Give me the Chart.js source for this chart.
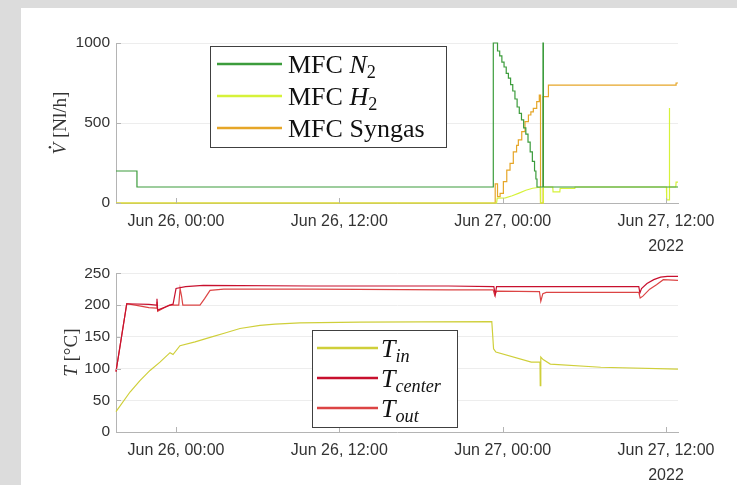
<!DOCTYPE html>
<html>
<head>
<meta charset="utf-8">
<script src="https://cdn.jsdelivr.net/npm/chart.js@4.4.1/dist/chart.umd.min.js"></script>
<style>
html, body { margin: 0; padding: 0; background: #dcdcdc; }
body { width: 737px; height: 485px; position: relative; overflow: hidden; }
#paper { position: absolute; left: 21px; top: 8px; right: 0; bottom: 0; background: #fff; }
#c1 { position: absolute; left: 0; top: 0; }
#c2 { position: absolute; left: 0; top: 258px; }
</style>
</head>
<body>
<div id="paper"></div>
<canvas id="c1" width="737" height="258"></canvas>
<canvas id="c2" width="737" height="227"></canvas>
<script>
// time axis: hours since Jun 26 2022, 00:00
var tStart = -4.41, tEnd = 36.88;
var tickHours = [0, 12, 24, 36];
var tickLabels = ["Jun 26, 00:00", "Jun 26, 12:00", "Jun 27, 00:00", ["Jun 27, 12:00", "2022"]];

// mass flow controllers [Nl/h]
var n2Time = [-4.41, -2.87, 23.31, 23.62, 23.78, 23.94, 24.10, 24.26, 24.42, 24.58, 24.74, 24.90, 25.06, 25.22, 25.38, 25.54, 25.70, 25.86, 26.02, 26.18, 26.34, 26.44, 26.52, 26.96, 26.99, 36.88];
var n2Flow = [200, 100, 1000, 950, 920, 880, 850, 810, 780, 740, 700, 650, 600, 560, 520, 470, 430, 380, 320, 260, 200, 150, 100, 1000, 100, 100];

var h2Time = [-4.41, 23.55, 23.60, 24.20, 24.70, 25.20, 25.70, 26.20, 26.60, 26.76, 26.78, 26.97, 26.99, 27.68, 27.70, 28.20, 28.22, 29.30, 29.32, 36.03, 36.05, 36.22, 36.24, 36.27, 36.72, 36.74, 36.88];
var h2Flow = [0, 0, 30, 32, 45, 62, 80, 92, 97, 97, 0, 0, 100, 100, 70, 70, 92, 92, 100, 100, 20, 20, 594, 100, 100, 130, 130];

var sgTime = [-4.41, 23.45, 23.62, 23.81, 24.05, 24.30, 24.54, 24.78, 25.02, 25.15, 25.40, 25.64, 25.89, 26.07, 26.25, 26.50, 26.69, 26.78, 26.97, 27.36, 36.74, 36.88];
var sgFlow = [0, 120, 40, 60, 133, 206, 248, 320, 360, 394, 446, 508, 550, 570, 592, 633, 675, 0, 665, 737, 750, 750];

// temperatures [°C]
var tinTime = [-4.41, -3.38, -2.65, -1.91, -1.18, -0.44, -0.22, 0.29, 1.40, 2.50, 3.60, 4.70, 6.17, 7.27, 9.10, 13.5, 18.0, 23.20, 23.33, 23.50, 26.10, 26.74, 26.76, 26.80, 26.97, 27.50, 31.20, 36.88];
var tinVal = [32, 63, 81, 97, 110, 125, 122, 136, 142, 149, 156, 163, 168, 170, 172, 173, 173.5, 174, 131, 126, 110, 110, 73, 118, 114, 107, 102, 99];

var tcTime = [-4.41, -3.62, -2.0, -1.45, -1.40, -1.35, -0.30, -0.22, 0.0, 0.7, 2.0, 10, 20, 23.35, 23.45, 23.55, 30, 34.0, 34.08, 34.2, 34.6, 35.1, 35.6, 36.1, 36.88];
var tcVal = [95, 202, 201, 200, 210, 192, 201, 201, 226, 229, 231, 230, 230, 229, 216, 229, 229, 229, 219, 226, 234, 240, 244, 245, 245];

var toTime = [-4.41, -3.62, -3.0, -2.0, -1.45, -1.40, -1.35, -0.5, 0.2, 0.30, 0.40, 0.50, 1.76, 2.1, 2.5, 3.5, 10, 20, 23.3, 23.42, 23.55, 26.70, 26.80, 26.95, 27.2, 34.0, 34.1, 34.3, 34.8, 35.3, 35.8, 36.88];
var toVal = [95, 202, 200, 196, 195, 205, 190, 200, 200, 226, 215, 200, 200, 210, 223, 225, 225, 224, 224, 215, 222, 221, 206, 218, 220, 220, 211, 214, 225, 232, 240, 239];

var axisColor = "#b4b4b4";
var textColor = "#333333";
var serif = '"Liberation Serif", "DejaVu Serif", serif';

function pts(t, v) {
    return t.map(function (x, i) { return { x: x, y: v[i] }; });
}

// tiny latex-ish label parser: $...$ = math italic, _x / _{xy} = subscript, \dot{X}
function parseTex(s) {
    var out = [], math = false, i = 0;
    while (i < s.length) {
        var c = s[i];
        if (c === "$") { math = !math; i++; continue; }
        if (math && c === "\\") {
            var m = s.slice(i).match(/^\\dot\{(.)\}/);
            out.push({ t: m[1], it: true, dot: true });
            i += m[0].length;
            continue;
        }
        if (math && c === "_") {
            var sub;
            if (s[i + 1] === "{") { var j = s.indexOf("}", i); sub = s.slice(i + 2, j); i = j + 1; }
            else { sub = s[i + 1]; i += 2; }
            out.push({ t: sub, it: /[a-z]/i.test(sub), sub: true });
            continue;
        }
        out.push({ t: c, it: math && /[A-Za-z]/.test(c) });
        i++;
    }
    return out;
}

function partFont(p, size) {
    var fs = p.sub ? size * 0.7 : size;
    return (p.it ? "italic " : "") + fs + "px " + serif;
}

function texWidth(ctx, parts, size) {
    var w = 0;
    parts.forEach(function (p) { ctx.font = partFont(p, size); w += ctx.measureText(p.t).width; });
    return w;
}

function drawTex(ctx, parts, x, y, size, color) {
    ctx.fillStyle = color;
    ctx.textAlign = "left";
    ctx.textBaseline = "alphabetic";
    parts.forEach(function (p) {
        ctx.font = partFont(p, size);
        var w = ctx.measureText(p.t).width;
        ctx.fillText(p.t, x, p.sub ? y + size * 0.22 : y);
        if (p.dot) {
            ctx.beginPath();
            ctx.arc(x + w * 0.62, y - size * 0.86, size * 0.065, 0, Math.PI * 2);
            ctx.fill();
        }
        x += w;
    });
}

var matlabLook = {
    id: "matlabLook",
    afterDraw: function (chart, args, opts) {
        var ctx = chart.ctx, a = chart.chartArea;
        var xs = chart.scales.x, ys = chart.scales.y;
        ctx.save();
        // inward tick marks
        ctx.strokeStyle = axisColor;
        ctx.lineWidth = 1;
        ctx.beginPath();
        tickHours.forEach(function (v) {
            var px = Math.round(xs.getPixelForValue(v)) + 0.5;
            ctx.moveTo(px, a.bottom);
            ctx.lineTo(px, a.bottom - 5);
        });
        ys.ticks.forEach(function (t) {
            var py = Math.round(ys.getPixelForValue(t.value)) + 0.5;
            ctx.moveTo(a.left, py);
            ctx.lineTo(a.left + 5, py);
        });
        ctx.stroke();

        // y axis title, rotated
        var tp = parseTex(opts.yTitle);
        var tw = texWidth(ctx, tp, opts.titleSize);
        ctx.save();
        ctx.translate(opts.titleX, (a.top + a.bottom) / 2);
        ctx.rotate(-Math.PI / 2);
        drawTex(ctx, tp, -tw / 2, opts.titleSize * 0.33, opts.titleSize, textColor);
        ctx.restore();

        // legend box
        var b = opts.box;
        ctx.fillStyle = "#fff";
        ctx.fillRect(b.x, b.y, b.w, b.h);
        ctx.strokeStyle = "#404040";
        ctx.lineWidth = 1;
        ctx.strokeRect(b.x + 0.5, b.y + 0.5, b.w, b.h);
        chart.data.datasets.forEach(function (ds, i) {
            var ry = opts.rows[i];
            ctx.strokeStyle = ds.borderColor;
            ctx.lineWidth = 2.5;
            ctx.beginPath();
            ctx.moveTo(opts.lineX[0], ry);
            ctx.lineTo(opts.lineX[1], ry);
            ctx.stroke();
            drawTex(ctx, parseTex(ds.label), opts.textX, ry + opts.fontSize * 0.33, opts.fontSize, "#111");
        });
        ctx.restore();
    }
};

function lineSet(label, color, data, stepped) {
    return {
        label: label,
        data: data,
        borderColor: color,
        backgroundColor: color,
        borderWidth: 1.2,
        pointRadius: 0,
        stepped: stepped ? "before" : false,
        tension: 0,
        clip: 3
    };
}

function makeOptions(yMax, yStep, padTop, xHeight, legendOpts) {
    return {
        responsive: false,
        animation: false,
        layout: { padding: { left: 30, right: 59, top: padTop, bottom: 0 } },
        plugins: {
            legend: { display: false },
            tooltip: { enabled: false },
            matlabLook: legendOpts
        },
        scales: {
            x: {
                type: "linear",
                min: tStart,
                max: tEnd,
                afterBuildTicks: function (axis) {
                    axis.ticks = tickHours.map(function (v) { return { value: v }; });
                },
                afterFit: function (s) { s.height = xHeight; },
                ticks: {
                    autoSkip: false,
                    maxRotation: 0,
                    padding: 6.4,
                    color: textColor,
                    font: { family: '"Liberation Sans", Arial, sans-serif', size: 16, lineHeight: 1.55 },
                    callback: function (v) { return tickLabels[tickHours.indexOf(v)]; }
                },
                grid: { display: false, drawTicks: false },
                border: { display: true, color: axisColor, width: 1 }
            },
            y: {
                min: 0,
                max: yMax,
                afterFit: function (s) { s.width = 86; },
                ticks: {
                    stepSize: yStep,
                    padding: 6,
                    color: textColor,
                    font: { family: '"Liberation Sans", Arial, sans-serif', size: 15.5 },
                    callback: function (v) { return String(v); }
                },
                grid: { color: "#ededed", lineWidth: 1, drawTicks: false },
                border: { display: true, color: axisColor, width: 1 }
            }
        }
    };
}

new Chart(document.getElementById("c1"), {
    type: "line",
    data: {
        datasets: [
            lineSet("MFC $N_2$", "#3c9c3c", pts(n2Time, n2Flow), true),
            lineSet("MFC $H_2$", "#d6f23a", pts(h2Time, h2Flow), false),
            lineSet("MFC Syngas", "#e6a628", pts(sgTime, sgFlow), true)
        ]
    },
    options: makeOptions(1000, 500, 43, 55, {
        yTitle: "$\\dot{V}$ [Nl/h]",
        titleX: 60,
        titleSize: 19,
        box: { x: 210, y: 46, w: 236, h: 101 },
        rows: [64, 96, 128],
        lineX: [217, 282],
        textX: 288,
        fontSize: 26
    }),
    plugins: [matlabLook]
});

new Chart(document.getElementById("c2"), {
    type: "line",
    data: {
        datasets: [
            lineSet("$T_{in}$", "#cfcf3a", pts(tinTime, tinVal), false),
            lineSet("$T_{center}$", "#c8102e", pts(tcTime, tcVal), false),
            lineSet("$T_{out}$", "#dc4444", pts(toTime, toVal), false)
        ]
    },
    options: makeOptions(250, 50, 14, 53, {
        yTitle: "$T$ [°C]",
        titleX: 71,
        titleSize: 19,
        box: { x: 312, y: 72, w: 145, h: 97 },
        rows: [90, 120, 150],
        lineX: [317, 378],
        textX: 381,
        fontSize: 26
    }),
    plugins: [matlabLook]
});
</script>
</body>
</html>
